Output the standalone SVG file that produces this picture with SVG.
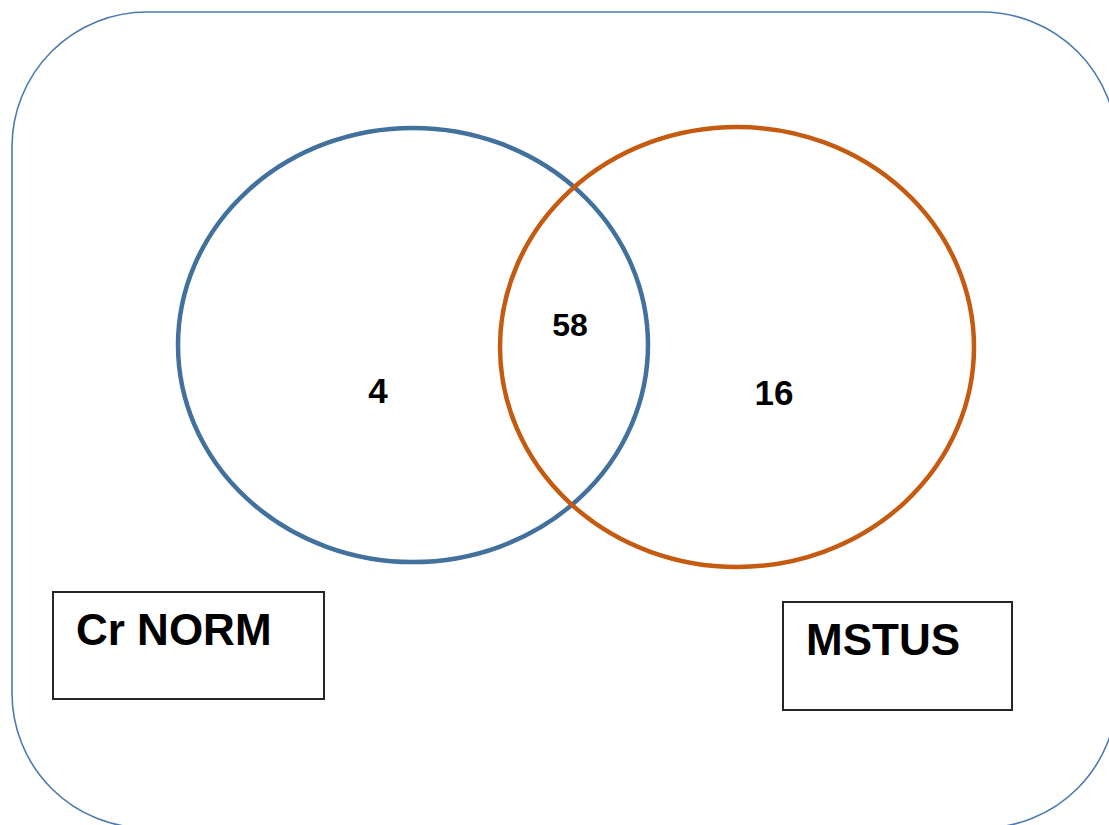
<svg xmlns="http://www.w3.org/2000/svg" width="1109" height="825" viewBox="0 0 1109 825">
  <style>
    .frame { fill: none; stroke: #4a7ab0; stroke-width: 1.6; }
    .set { fill: none; stroke-width: 4.5; }
    .box { fill: #ffffff; stroke: #262626; stroke-width: 2; }
    .num { font-family: "Liberation Sans", Arial, sans-serif; font-weight: bold; fill: #000000; text-anchor: middle; }
    .label { font-family: "Liberation Sans", Arial, sans-serif; font-weight: bold; font-size: 44px; fill: #000000; }
  </style>
  <rect width="1109" height="825" fill="#ffffff"/>
  <!-- enclosing universe frame -->
  <g id="frame">
    <rect class="frame" x="12" y="12" width="1105" height="816" rx="135" ry="135"/>
  </g>
  <!-- set circles -->
  <g id="set-crnorm">
    <ellipse class="set" cx="413" cy="345" rx="235" ry="217" stroke="#41719c"/>
  </g>
  <g id="set-mstus">
    <ellipse class="set" cx="737" cy="347" rx="237" ry="220" stroke="#c55a11"/>
  </g>
  <!-- region counts -->
  <g id="count-only-crnorm"><text class="num" x="378" y="403" font-size="35">4</text></g>
  <g id="count-both"><text class="num" x="570" y="336" font-size="32">58</text></g>
  <g id="count-only-mstus"><text class="num" x="774" y="405" font-size="35">16</text></g>
  <!-- set name boxes -->
  <g id="label-crnorm">
    <rect class="box" x="53" y="592" width="271" height="107"/>
    <text class="label" x="76" y="645">Cr NORM</text>
  </g>
  <g id="label-mstus">
    <rect class="box" x="783" y="602" width="229" height="108"/>
    <text class="label" x="806" y="655">MSTUS</text>
  </g>
</svg>
